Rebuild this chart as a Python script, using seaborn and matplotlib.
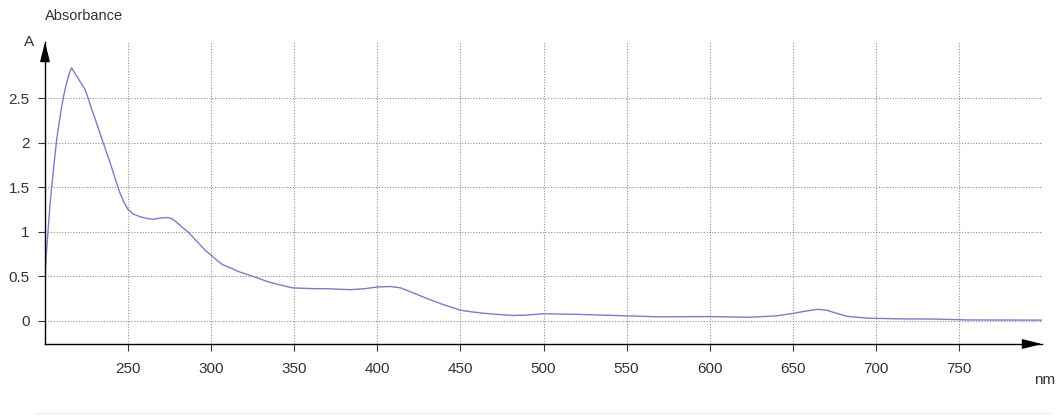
import matplotlib
matplotlib.use("Agg")
import matplotlib.pyplot as plt
import seaborn as sns
import pandas as pd
from matplotlib.lines import Line2D

wavelength_nm = [200, 201, 202, 203, 204, 205, 206, 207, 208.5, 210, 211.5, 213, 214.5, 216,
                 218, 220, 222, 224, 226, 228, 230.5, 233, 236.5, 240, 242.5, 245, 247.5,
                 250, 253, 257, 261, 265, 270, 274, 277, 279, 282, 286, 291, 296, 301, 304,
                 307, 312, 317, 325, 334, 341, 349, 360, 370, 384, 392, 400, 408, 414, 422,
                 430, 440, 450, 457, 464, 474, 482, 490, 500, 522, 550, 569, 600,
                 623, 640, 651, 658, 665, 671, 677, 683, 695, 715, 735, 755, 800]
absorbance = [0.52, 0.8, 1.05, 1.3, 1.5, 1.68, 1.86, 2.03, 2.22, 2.4, 2.55, 2.67, 2.77, 2.84,
              2.78, 2.72, 2.66, 2.6, 2.5, 2.38, 2.25, 2.11, 1.92, 1.73, 1.58, 1.44, 1.33,
              1.25, 1.2, 1.17, 1.15, 1.14, 1.155, 1.16, 1.14, 1.11, 1.06, 1.0, 0.9, 0.80, 0.72, 0.67,
              0.63, 0.59, 0.55, 0.5, 0.44, 0.405, 0.37, 0.362, 0.36, 0.35, 0.36, 0.38, 0.385, 0.37, 0.31,
              0.25, 0.18, 0.12, 0.1, 0.085, 0.07, 0.06, 0.065, 0.08, 0.072, 0.056, 0.045, 0.048,
              0.04, 0.055, 0.086, 0.11, 0.13, 0.116, 0.08, 0.05, 0.03, 0.022, 0.02, 0.01, 0.008]

x_ticks = [250, 300, 350, 400, 450, 500, 550, 600, 650, 700, 750]
y_ticks = [0, 0.5, 1, 1.5, 2, 2.5]
y_tick_labels = ["0", "0.5", "1", "1.5", "2", "2.5"]

df = pd.DataFrame({"nm": wavelength_nm, "A": absorbance})

sns.set_theme(style="white")
plt.rcParams["font.family"] = ["Liberation Sans", "DejaVu Sans"]

fig = plt.figure(figsize=(10.63, 4.19), dpi=100)
ax = fig.add_axes([45/1063, 1-344/419, (1042-45)/1063, (344-42)/419])

sns.lineplot(data=df, x="nm", y="A", ax=ax, color="#7c7cc4", linewidth=1.0,
             estimator=None, sort=False)

ax.set_xlim(200, 800)
ax.set_ylim(-0.26, 3.13)
ax.set_xticks(x_ticks)
ax.set_xticklabels([str(t) for t in x_ticks])
ax.set_yticks(y_ticks)
ax.set_yticklabels(y_tick_labels)
ax.set_xlabel("")
ax.set_ylabel("")

for t in x_ticks:
    ax.axvline(t, color="#909090", linestyle=(0, (1, 1.5)), linewidth=0.8, zorder=0)
for t in y_ticks:
    ax.axhline(t, color="#909090", linestyle=(0, (1, 1.5)), linewidth=0.8, zorder=0)

for s in ["top", "right"]:
    ax.spines[s].set_visible(False)
for s in ["left", "bottom"]:
    ax.spines[s].set_color("black")
    ax.spines[s].set_linewidth(1.0)

ax.tick_params(axis="both", which="both", direction="out", length=5, width=0.8,
               color="#333333", labelsize=11, labelcolor="#333333", pad=6,
               left=True, bottom=True)
ax.tick_params(axis="x", pad=8)

# axis arrows
ax.annotate("", xy=(1.0, 0), xytext=(0.985, 0), xycoords="axes fraction",
            arrowprops=dict(arrowstyle="-|>,head_length=1.0,head_width=0.25",
                            color="black", lw=1.0, shrinkA=0, shrinkB=0))
ax.annotate("", xy=(0, 1.0), xytext=(0, 0.96), xycoords="axes fraction",
            arrowprops=dict(arrowstyle="-|>,head_length=1.0,head_width=0.25",
                            color="black", lw=1.0, shrinkA=0, shrinkB=0))

fig.text(45/1063, 1-16/419, "Absorbance", ha="left", va="center", fontsize=10.5, color="#333333")
fig.text(34/1063, 1-42/419, "A", ha="right", va="center", fontsize=11, color="#333333")
fig.text(1045/1063, 1-380/419, "nm", ha="center", va="center", fontsize=11, color="#333333")

fig.add_artist(Line2D([35/1063, 1050/1063], [1-413/419, 1-413/419], color="#eeeeee",
                      linewidth=1.0, transform=fig.transFigure))

fig.savefig("out.png", dpi=100, facecolor="white")
